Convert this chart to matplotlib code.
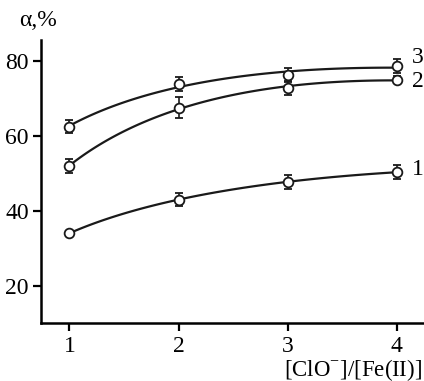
import numpy as np
import matplotlib
matplotlib.use("Agg")
import matplotlib.pyplot as plt

plt.rcParams['font.family'] = ['Liberation Serif', 'DejaVu Serif']
plt.rcParams['mathtext.fontset'] = 'custom'
plt.rcParams['mathtext.rm'] = 'Liberation Serif'

# ratio [ClO-]/[Fe(II)]
ratio = [1, 2, 3, 4]
# conversion alpha, %, curves 1-3
alpha_1 = [34.0, 43.0, 47.7, 50.3]
alpha_2 = [52.0, 67.5, 72.8, 75.0]
alpha_3 = [62.5, 73.8, 76.2, 78.6]
err_1 = [0.0, 1.8, 1.8, 1.8]
err_2 = [1.8, 2.8, 1.8, 1.0]
err_3 = [1.8, 1.8, 1.8, 1.8]
curve_labels = ['1', '2', '3']

fig = plt.figure(figsize=(4.24, 3.81), dpi=100)
ax = fig.add_axes([0.097, 0.152, 0.903, 0.743])

xs = np.linspace(1, 4, 100)
for y, e in zip([alpha_1, alpha_2, alpha_3], [err_1, err_2, err_3]):
    # smooth fitted curve (quadratic in sqrt x)
    p = np.polyfit(np.sqrt(ratio), y, 2)
    ax.plot(xs, np.polyval(p, np.sqrt(xs)), color='#1a1a1a', lw=1.6)
    ax.errorbar(ratio, y, yerr=e, fmt='o', ms=7, mfc='white', mec='#1a1a1a',
                mew=1.3, ecolor='#1a1a1a', elinewidth=1.2, capsize=3, capthick=1.2, zorder=3)

for lab, yv in zip(curve_labels, [51.0, 74.5, 80.8]):
    ax.text(4.14, yv, lab, fontsize=17, va='center', ha='left')

ax.set_xlim(0.74, 4.25)
ax.set_ylim(10, 85.6)
ax.set_xticks([1, 2, 3, 4])
ax.set_yticks([20, 40, 60, 80])
ax.tick_params(direction='out', length=6, width=1.6, labelsize=17, pad=3)
for s in ['top', 'right']:
    ax.spines[s].set_visible(False)
for s in ['left', 'bottom']:
    ax.spines[s].set_linewidth(1.8)

fig.text(0.045, 0.945, 'α,%', fontsize=17, ha='left', va='center')
fig.text(0.995, 0.03, r'[ClO$^{-}$]/[Fe(II)]', fontsize=16.5, ha='right', va='center')

fig.savefig('out.png', dpi=100)
